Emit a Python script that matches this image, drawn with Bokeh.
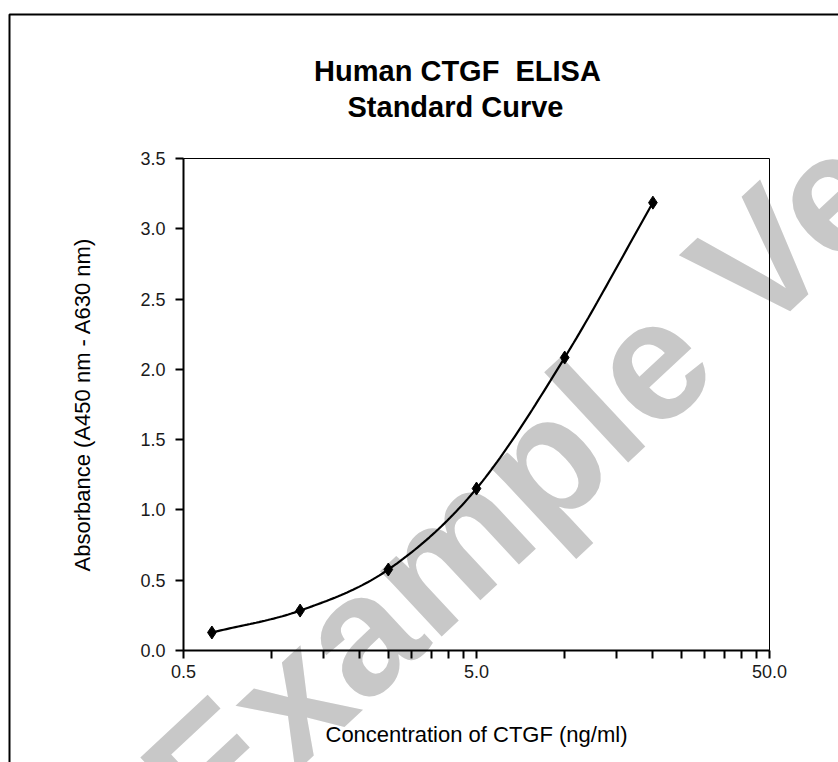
import numpy as np
from bokeh.plotting import figure
from bokeh.core.properties import value
from bokeh.models import (BoxAnnotation, FixedTicker, PrintfTickFormatter, Range1d)
from bokeh.embed import file_html
from bokeh.resources import INLINE

# ---- data ----
conc = [0.625, 1.25, 2.5, 5.0, 10.0, 20.0]          # ng/ml
absorb = [0.128, 0.284, 0.576, 1.152, 2.084, 3.186]  # A450 - A630
x_major = [0.5, 5.0, 50.0]
x_minor = [1.0, 1.5, 2.0, 2.5, 3.0, 3.5, 4.0, 4.5,
           10.0, 15.0, 20.0, 25.0, 30.0, 35.0, 40.0, 45.0]
y_ticks = [0.0, 0.5, 1.0, 1.5, 2.0, 2.5, 3.0, 3.5]
title_lines = ["Human CTGF\u00a0 ELISA", "Standard Curve"]
x_title = "Concentration of CTGF (ng/ml)"
y_title = "Absorbance (A450 nm - A630 nm)"
watermark = "Example Version"

FONT = "Liberation Sans"
W, H = 838, 762
X0, X1 = 0.5, 50.0
Y0, Y1 = 0.0, 3.5
FW, FH = 586, 492
ML, MT = 183, 158

# ---------- background layer: page border, title, watermark ----------
bg = figure(width=W, height=H, x_range=Range1d(0, W), y_range=Range1d(H, 0),
            min_border=0, x_axis_location=None, y_axis_location=None,
            output_backend="svg", toolbar_location=None)
bg.grid.visible = False
bg.outline_line_color = None
bg.background_fill_color = "white"
bg.border_fill_color = "white"
bg.add_layout(BoxAnnotation(left=9, right=W + 100, top=14, bottom=H + 100,
                            fill_color=None, fill_alpha=0, line_color="black",
                            line_alpha=1.0, line_width=2))
bg.text(x=[171], y=[807], text=[watermark], angle=43, angle_units="deg",
        text_align="left", text_baseline="middle", text_font=value(FONT),
        text_font_style="bold", text_font_size="170px", text_color="#c8c8c8")
bg.text(x=[457, 455], y=[70, 106], text=title_lines, text_align="center",
        text_baseline="middle", text_font=value(FONT), text_font_style="bold",
        text_font_size="29px", text_color="black")

# ---------- chart layer (transparent, drawn on top of the background) ----------
p = figure(x_axis_type="log", x_range=Range1d(X0, X1), y_range=Range1d(Y0, Y1),
           width=W, height=H, min_border_left=ML, min_border_right=W - ML - FW,
           min_border_top=MT, min_border_bottom=H - MT - FH,
           output_backend="svg", toolbar_location=None)
p.margin = (-H, 0, 0, 0)
p.background_fill_color = None
p.border_fill_color = None
p.grid.visible = False
p.outline_line_color = "black"
p.outline_line_width = 1

for ax in (p.xaxis[0], p.yaxis[0]):
    ax.axis_line_color = "black"
    ax.axis_line_width = 2
    ax.major_tick_line_color = "black"
    ax.major_tick_line_width = 2
    ax.major_tick_in = 0
    ax.major_tick_out = 8
    ax.major_label_text_font = FONT
    ax.major_label_text_font_size = "18px"
    ax.major_label_text_color = "#1a1a1a"
    ax.axis_label_text_font = FONT
    ax.axis_label_text_font_size = "22px"
    ax.axis_label_text_font_style = "normal"
    ax.axis_label_text_color = "black"

xa = p.xaxis[0]
xa.ticker = FixedTicker(ticks=x_major, minor_ticks=x_minor)
xa.formatter = PrintfTickFormatter(format="%.1f")
xa.minor_tick_line_color = "black"
xa.minor_tick_line_width = 2
xa.minor_tick_in = 0
xa.minor_tick_out = 8
xa.major_label_standoff = 6
xa.axis_label = x_title
xa.axis_label_standoff = 41

ya = p.yaxis[0]
ya.ticker = FixedTicker(ticks=y_ticks, minor_ticks=[])
ya.formatter = PrintfTickFormatter(format="%.1f")
ya.minor_tick_line_color = None
ya.major_label_standoff = 10
ya.axis_label = y_title
ya.axis_label_standoff = 42


# pixel helpers (used only to smooth the curve between the data points)
def to_px(x, y):
    return (np.log10(np.asarray(x) / X0) / np.log10(X1 / X0) * FW,
            (np.asarray(y) - Y0) / (Y1 - Y0) * FH)


def from_px(u, v):
    return (X0 * 10 ** (np.asarray(u) / FW * np.log10(X1 / X0)),
            Y0 + np.asarray(v) / FH * (Y1 - Y0))


u, v = to_px(conc, absorb)
P = np.column_stack([u, v])
ext = np.vstack([2 * P[0] - P[1], P, 2 * P[-1] - P[-2]])
curve = []
for i in range(1, len(ext) - 2):
    p0, p1, p2, p3 = ext[i - 1], ext[i], ext[i + 1], ext[i + 2]
    for t in np.linspace(0, 1, 30, endpoint=False):
        tt, ttt = t * t, t * t * t
        pt = 0.5 * ((2 * p1) + (-p0 + p2) * t + (2 * p0 - 5 * p1 + 4 * p2 - p3) * tt
                    + (-p0 + 3 * p1 - 3 * p2 + p3) * ttt)
        curve.append(pt)
curve.append(P[-1])
curve = np.array(curve)
cx, cy = from_px(curve[:, 0], curve[:, 1])
p.line(cx, cy, line_color="black", line_width=2.2)
p.scatter(conc, absorb, marker="diamond", size=13, fill_color="black",
          line_color="black")

# two independent roots (no frame alignment); the chart overlaps the background
open("out.html", "w").write(file_html([bg, p], INLINE))
